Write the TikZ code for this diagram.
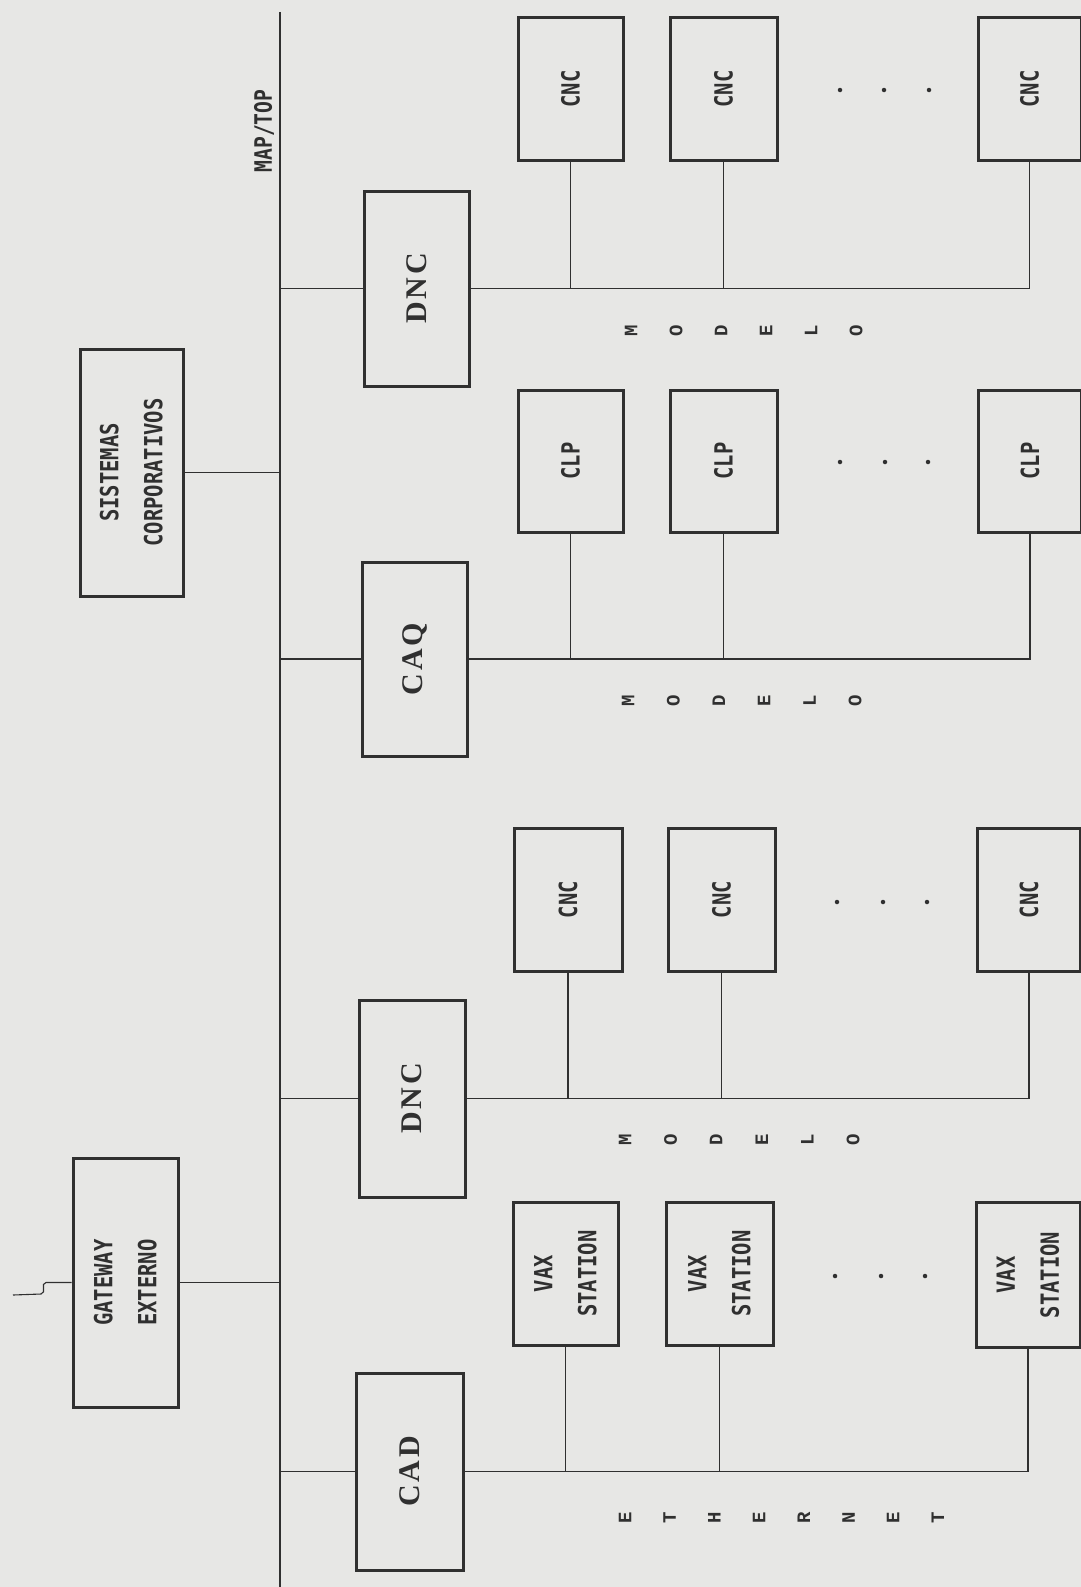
\documentclass[tikz,border=0pt]{standalone}
\usepackage{fontspec}
\usepackage{graphicx}
\newfontfamily\mainlbl[LetterSpace=9]{Liberation Serif}
\newfontfamily\smlbl[FakeStretch=0.82]{DejaVu Sans Mono}
\newfontfamily\tinylbl{Liberation Mono}
\definecolor{paper}{RGB}{231,231,229}
\definecolor{ink}{RGB}{48,48,48}
\tikzset{
  box/.style={draw=ink,line width=3pt,inner sep=0pt,text=ink},
  mainbox/.style={box,font=\mainlbl\bfseries\fontsize{30}{36}\selectfont},
  smallbox/.style={box,font=\smlbl\bfseries\fontsize{25}{44}\selectfont},
  wire/.style={draw=ink,line width=1.1pt},
  hbus/.style={draw=ink,line width=1.6pt},
  vbus/.style={draw=ink,line width=2pt},
  letter/.style={inner sep=0pt,text=ink,font=\tinylbl\bfseries\fontsize{19}{22}\selectfont},
  dotnode/.style={circle,fill=ink,inner sep=0pt,minimum size=4.5pt},
  buslabel/.style={inner sep=0pt,text=ink,font=\smlbl\bfseries\fontsize{24}{30}\selectfont}
}
\newcommand{\rt}[1]{\rotatebox{90}{#1}}
\newcommand{\twol}[2]{\rotatebox{90}{\begin{tabular}{@{}c@{}}#1\\#2\end{tabular}}}
\begin{document}
\begin{tikzpicture}[x=1pt,y=-1pt]
\fill[paper] (0,0) rectangle (1081,1587);
\useasboundingbox (0,0) rectangle (1081,1587);

% MAP/TOP backbone
\coordinate (bustop) at (280,12);
\coordinate (busbot) at (280,1587);
\draw[vbus] (bustop) -- (busbot);
\node[buslabel] (maptop) at (264,131) {\rt{MAP/TOP}};

% left side
\node[smallbox,minimum width=103,minimum height=247] (sis) at (131.5,472.5) {\twol{SISTEMAS}{CORPORATIVOS}};
\node[smallbox,minimum width=105,minimum height=249] (gw) at (125.5,1282.5) {\twol{GATEWAY}{EXTERNO}};
\draw[wire] (sis.east) -- (sis.east -| bustop);
\draw[wire] (gw.east) -- (gw.east -| bustop);
\coordinate (sq) at (13,1295);
\draw[wire] (gw.west) -- (46,1282.5) .. controls (40,1283) and (47,1293) .. (41,1294) -- (sq);

% main boxes
\node[mainbox,minimum width=105,minimum height=195] (dnc1) at (416.5,288.5) {\rt{DNC}};
\node[mainbox,minimum width=105,minimum height=194] (caq) at (414.5,659) {\rt{CAQ}};
\node[mainbox,minimum width=106,minimum height=197] (dnc2) at (412,1098.5) {\rt{DNC}};
\node[mainbox,minimum width=107,minimum height=197] (cad) at (409.5,1471.5) {\rt{CAD}};
\foreach \m in {dnc1,caq,dnc2,cad} {
  \draw[wire] (\m.west -| bustop) -- (\m.west);
}

% row 1: CNC under DNC
\node[smallbox,minimum width=105,minimum height=142] (a1) at (570.5,89) {\rt{CNC}};
\node[smallbox,minimum width=107,minimum height=142] (a2) at (723.5,89) {\rt{CNC}};
\node[smallbox,minimum width=103,minimum height=142] (a3) at (1029.5,89) {\rt{CNC}};
% row 2: CLP under CAQ
\node[smallbox,minimum width=105,minimum height=142] (b1) at (570.5,461) {\rt{CLP}};
\node[smallbox,minimum width=107,minimum height=142] (b2) at (723.5,461) {\rt{CLP}};
\node[smallbox,minimum width=103,minimum height=142] (b3) at (1030,461) {\rt{CLP}};
% row 3: CNC under DNC
\node[smallbox,minimum width=108,minimum height=143] (c1) at (568,899.5) {\rt{CNC}};
\node[smallbox,minimum width=107,minimum height=143] (c2) at (721.5,899.5) {\rt{CNC}};
\node[smallbox,minimum width=103,minimum height=143] (c3) at (1029,899.5) {\rt{CNC}};
% row 4: VAX STATION under CAD
\node[smallbox,minimum width=105,minimum height=143] (d1) at (565.5,1273.5) {\twol{VAX}{STATION}};
\node[smallbox,minimum width=107,minimum height=143] (d2) at (719.5,1273.5) {\twol{VAX}{STATION}};
\node[smallbox,minimum width=104,minimum height=145] (d3) at (1028,1275) {\twol{VAX}{STATION}};

% local buses
\draw[hbus] (dnc1.east) -- (dnc1.east -| a3.south) -- (a3.south);
\draw[wire] (a1.south) -- (a1.south |- dnc1.east);
\draw[wire] (a2.south) -- (a2.south |- dnc1.east);
\draw[hbus] (caq.east) -- (caq.east -| b3.south) -- (b3.south);
\draw[wire] (b1.south) -- (b1.south |- caq.east);
\draw[wire] (b2.south) -- (b2.south |- caq.east);
\draw[hbus] (dnc2.east) -- (dnc2.east -| c3.south) -- (c3.south);
\draw[wire] (c1.south) -- (c1.south |- dnc2.east);
\draw[wire] (c2.south) -- (c2.south |- dnc2.east);
\draw[hbus] (cad.east) -- (cad.east -| d3.south) -- (d3.south);
\draw[wire] (d1.south) -- (d1.south |- cad.east);
\draw[wire] (d2.south) -- (d2.south |- cad.east);

% ellipsis dots
\foreach \x/\y/\n in {840/90/a, 884/90/a, 929/90/a,
                     840/462/b, 885/462/b, 928/462/b,
                     837/902/c, 883/902/c, 927/902/c,
                     835/1276/d, 881/1276/d, 925/1276/d} {
  \node[dotnode] (dot\n\x) at (\x,\y) {};
}

% MODELO labels
\foreach \c [count=\i from 0] in {M,O,D,E,L,O} {
  \node[letter] (ma\i) at (631+45*\i,331) {\rt{\c}};
  \node[letter] (mb\i) at (628+45.4*\i,701) {\rt{\c}};
  \node[letter] (mc\i) at (625+45.6*\i,1140) {\rt{\c}};
}
% ETHERNET label
\foreach \c [count=\i from 0] in {E,T,H,E,R,N,E,T} {
  \node[letter] (eth\i) at (625+44.7*\i,1518) {\rt{\c}};
}
\end{tikzpicture}
\end{document}
